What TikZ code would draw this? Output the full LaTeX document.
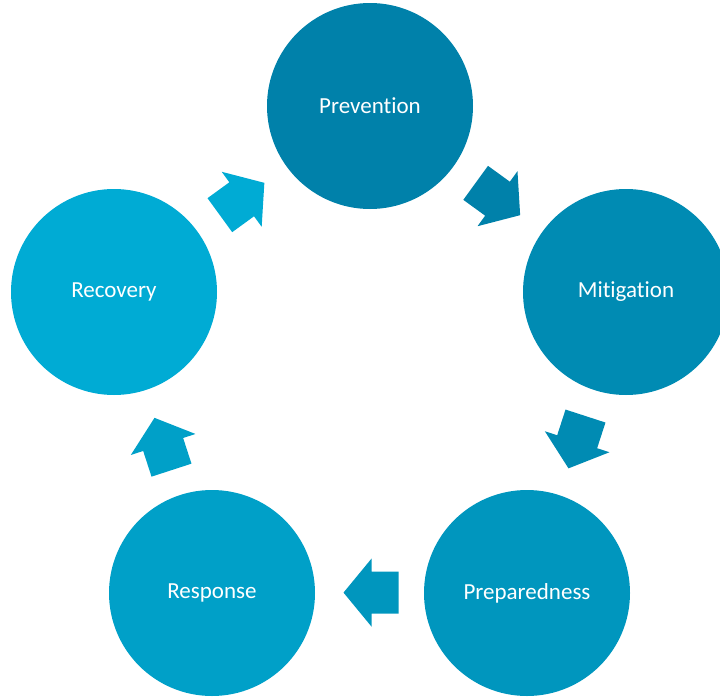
\documentclass[tikz,border=0pt]{standalone}
\usepackage{fontspec}
\setmainfont{Carlito}[Ligatures=NoCommon]
\definecolor{cPrev}{HTML}{0081AA}
\definecolor{cMit}{HTML}{008BB3}
\definecolor{cPrep}{HTML}{0096BE}
\definecolor{cResp}{HTML}{00A0C8}
\definecolor{cRec}{HTML}{00ABD4}
\begin{document}
\begin{tikzpicture}[x=1pt,y=-1pt,
  stage/.style={circle, minimum size=206pt, inner sep=0pt, text=white,
    font=\fontsize{23}{28}\selectfont},
  cyc arrow/.pic={\fill (27.5,0) -- (-0.5,34) -- (-0.5,21) -- (-27.5,21)
      -- (-27.5,-21) -- (-0.5,-21) -- (-0.5,-34) -- cycle;}]
\useasboundingbox (0,0) rectangle (720,696);
\clip (0,0) rectangle (720,696);
\node[stage, fill=cPrev] (prev) at (370,106) {Prevention};
\node[stage, fill=cMit]  (mit)  at (626,292) {Mitigation};
\node[stage, fill=cPrep] (prep) at (527,593) {Preparedness};
\node[stage, fill=cResp] (resp) at (212,593) {Response};
\node[stage, fill=cRec]  (rec)  at (114,292) {Recovery};
\pic[fill=cRec, rotate=36]   at (242.1,199.0) {cyc arrow};
\pic[fill=cPrev, rotate=-36] at (497.9,199.0) {cyc arrow};
\pic[fill=cMit, rotate=-108] at (577.0,442.2) {cyc arrow};
\pic[fill=cPrep, rotate=180] at (371.0,592.6) {cyc arrow};
\pic[fill=cResp, rotate=108] at (163.0,444.0) {cyc arrow};
\end{tikzpicture}
\end{document}
